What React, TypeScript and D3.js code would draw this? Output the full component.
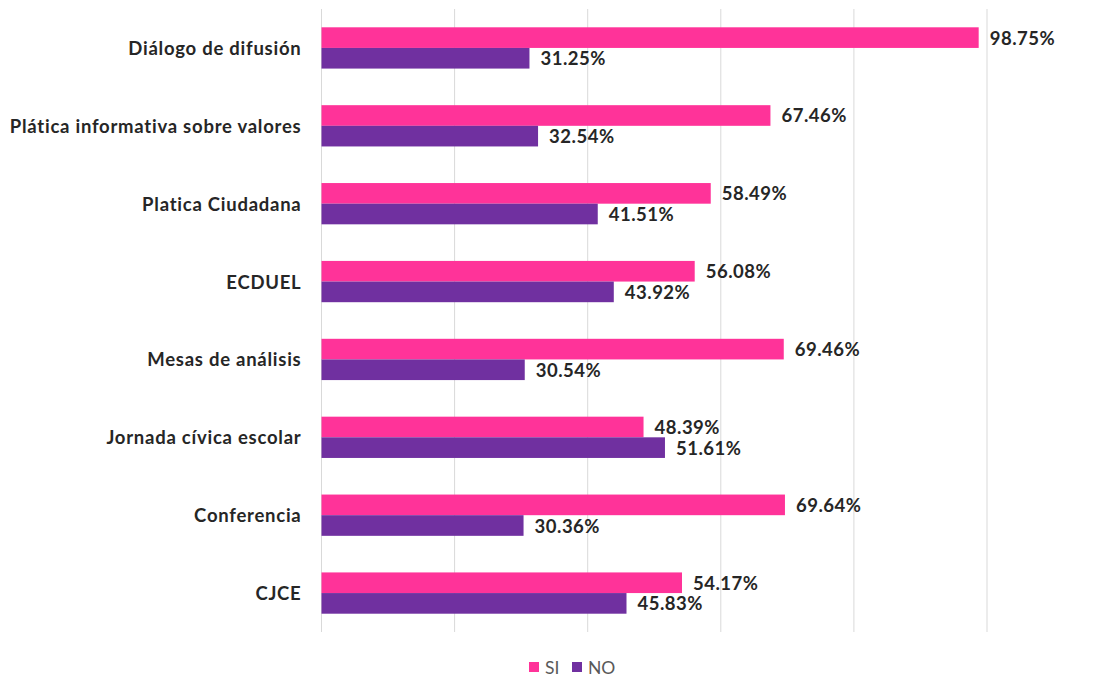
import React from "react";
import * as d3 from "d3";

const categories = [
  "Diálogo de difusión",
  "Plática informativa sobre valores",
  "Platica Ciudadana",
  "ECDUEL",
  "Mesas de análisis",
  "Jornada cívica escolar",
  "Conferencia",
  "CJCE",
];
const siValues = [98.75, 67.46, 58.49, 56.08, 69.46, 48.39, 69.64, 54.17];
const noValues = [31.25, 32.54, 41.51, 43.92, 30.54, 51.61, 30.36, 45.83];
const xTicks = [0, 20, 40, 60, 80, 100];
const seriesNames = ["SI", "NO"];
const colors = ["#FF3399", "#7030A0"];

const W = 1112;
const H = 677;
const left = 321.5;
const right = 987;
const top = 9;
const bottom = 632;

export default function App() {
  const x = d3.scaleLinear().domain([0, 100]).range([left, right]);
  const y = d3.scaleBand<string>().domain(categories).range([top, bottom]).paddingInner(0.47).paddingOuter(0.235);
  const inner = d3.scaleBand<string>().domain(seriesNames).range([0, y.bandwidth()]);
  const series = [siValues, noValues];
  const font = "Lato, 'Open Sans', sans-serif";
  return (
    <svg width={W} height={H} style={{ position: "absolute", left: 0, top: 0, background: "#fff" }}>
      {xTicks.map((t) => (
        <line key={t} x1={x(t)} x2={x(t)} y1={top} y2={bottom} stroke="#D9D9D9" strokeWidth={1} />
      ))}
      {categories.map((c, i) => (
        <g key={c}>
          <text
            x={left - 20}
            y={(y(c) ?? 0) + y.bandwidth() / 2}
            textAnchor="end"
            dominantBaseline="central"
            fontFamily={font}
            fontWeight="bold"
            fontSize={18.5}
            letterSpacing={0.75}
            fill="#262626"
          >
            {c}
          </text>
          {series.map((vals, si) => {
            const by = (y(c) ?? 0) + (inner(seriesNames[si]) ?? 0);
            return (
              <g key={si}>
                <rect x={x(0)} y={by} width={x(vals[i]) - x(0)} height={inner.bandwidth()} fill={colors[si]} />
                <text
                  x={x(vals[i]) + 11}
                  y={by + inner.bandwidth() / 2}
                  dominantBaseline="central"
                  fontFamily={font}
                  fontWeight="bold"
                  fontSize={18.5}
                  letterSpacing={0.5}
                  fill="#262626"
                >
                  {vals[i].toFixed(2)}%
                </text>
              </g>
            );
          })}
        </g>
      ))}
      <g>
        {seriesNames.map((s, i) => {
          const lx = 529 + i * 43;
          return (
            <g key={s}>
              <rect x={lx} y={662} width={10} height={10} fill={colors[i]} />
              <text x={lx + 16} y={667} dominantBaseline="central" fontFamily={font} fontSize={17.5} fill="#595959">
                {s}
              </text>
            </g>
          );
        })}
      </g>
    </svg>
  );
}
